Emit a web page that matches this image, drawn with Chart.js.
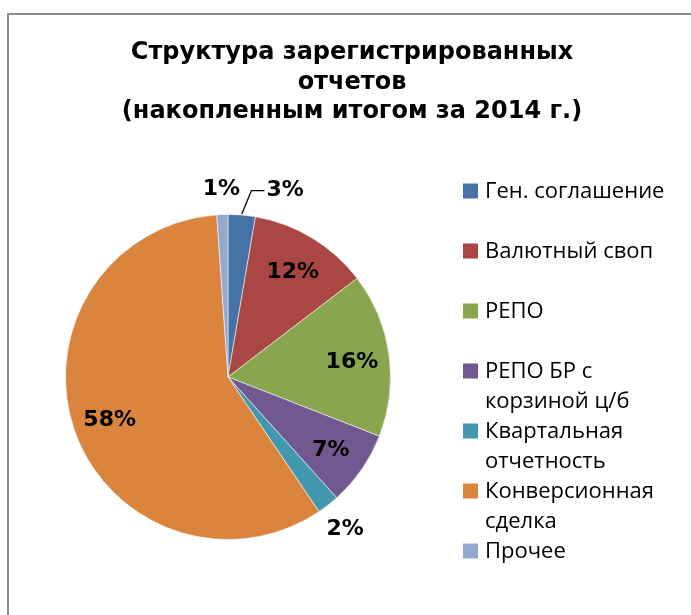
<!DOCTYPE html>
<html>
<head>
<meta charset="utf-8">
<script src="https://cdn.jsdelivr.net/npm/chart.js@4.4.0/dist/chart.umd.min.js"></script>
<style>
html, body { margin: 0; padding: 0; background: #ffffff; }
#wrap { width: 691px; height: 615px; position: relative; }
</style>
</head>
<body>
<div id="wrap"><canvas id="c" width="691" height="615"></canvas></div>
<script>
// ---- data ----
const TITLE_LINES = ['Структура зарегистрированных', 'отчетов', '(накопленным итогом за 2014 г.)'];
const CATEGORIES = ['Ген. соглашение', 'Валютный своп', 'РЕПО', 'РЕПО БР с корзиной ц/б', 'Квартальная отчетность', 'Конверсионная сделка', 'Прочее'];
const SHARES = [2.7, 11.9, 16.3, 7.4, 2.2, 58.3, 1.1];
const COLORS = ['#4572A7', '#AA4643', '#89A54E', '#71588F', '#4198AF', '#DB843D', '#93A9CF'];

// ---- styling / layout helpers (not data) ----
const TITLE_FONT = 'bold 24px "DejaVu Sans", sans-serif';
const LABEL_FONT = 'bold 22px "DejaVu Sans", sans-serif';
const LEGEND_FONT = '22px "Open Sans", "Noto Sans", sans-serif';
const OUTSIDE_NUDGE = { 0: { dx: 41, dy: 0, leader: true } };

function wrapText(ctx, text, maxW) {
  const words = text.split(' ');
  const lines = [];
  let cur = '';
  for (const w of words) {
    const t = cur ? cur + ' ' + w : w;
    if (cur && ctx.measureText(t).width > maxW) { lines.push(cur); cur = w; }
    else cur = t;
  }
  if (cur) lines.push(cur);
  return lines;
}

const decor = {
  id: 'decor',
  beforeDraw(chart) {
    const ctx = chart.ctx;
    ctx.save();
    ctx.fillStyle = '#ffffff';
    ctx.fillRect(0, 0, chart.width, chart.height);
    ctx.strokeStyle = '#8c8c8c';
    ctx.lineWidth = 2;
    ctx.beginPath();
    ctx.moveTo(8, chart.height + 2);
    ctx.lineTo(8, 14);
    ctx.lineTo(chart.width + 2, 14);
    ctx.stroke();
    ctx.restore();
  },
  afterDraw(chart) {
    const ctx = chart.ctx;
    ctx.save();
    // title
    ctx.fillStyle = '#000';
    ctx.font = TITLE_FONT;
    ctx.textAlign = 'center';
    ctx.textBaseline = 'alphabetic';
    const titleBase = [59, 89, 118];
    TITLE_LINES.forEach((t, i) => ctx.fillText(t, 352, titleBase[i]));

    // legend
    ctx.font = LEGEND_FONT;
    ctx.textAlign = 'left';
    ctx.textBaseline = 'middle';
    chart.data.labels.forEach((lab, i) => {
      const cy = 191 + i * 60;
      ctx.fillStyle = chart.data.datasets[0].backgroundColor[i];
      ctx.fillRect(463, cy - 7.5, 15, 15);
      ctx.fillStyle = '#000';
      const lines = wrapText(ctx, lab, 200);
      lines.forEach((ln, k) => ctx.fillText(ln, 485, cy + 1 + k * 30));
    });

    // data labels
    const meta = chart.getDatasetMeta(0);
    const data = chart.data.datasets[0].data;
    const total = data.reduce((a, b) => a + b, 0);
    ctx.font = LABEL_FONT;
    ctx.textAlign = 'center';
    ctx.textBaseline = 'alphabetic';
    meta.data.forEach((arc, i) => {
      const p = arc.getProps(['x', 'y', 'startAngle', 'endAngle', 'outerRadius'], true);
      const mid = (p.startAngle + p.endAngle) / 2;
      const pct = Math.round(data[i] / total * 100);
      const inside = pct >= 5;
      const r = p.outerRadius * (inside ? 0.77 : 1.17);
      let cx = p.x + Math.cos(mid) * r;
      let cy = p.y + Math.sin(mid) * r;
      const nudge = OUTSIDE_NUDGE[i];
      const txt = pct + '%';
      if (!inside && nudge) {
        cx += nudge.dx; cy += nudge.dy;
        const w = ctx.measureText(txt).width;
        const left = cx - w / 2;
        const ex = p.x + Math.cos(mid) * p.outerRadius;
        const ey = p.y + Math.sin(mid) * p.outerRadius;
        ctx.strokeStyle = '#000';
        ctx.lineWidth = 1.3;
        ctx.beginPath();
        ctx.moveTo(ex, ey - 1);
        ctx.lineTo(left - 15, cy + 3);
        ctx.lineTo(left - 2, cy + 3);
        ctx.stroke();
      }
      ctx.fillStyle = '#000';
      ctx.fillText(txt, cx, cy + 8);
    });
    ctx.restore();
  }
};

new Chart(document.getElementById('c'), {
  type: 'pie',
  data: {
    labels: CATEGORIES,
    datasets: [{
      data: SHARES,
      backgroundColor: COLORS,
      borderColor: 'rgba(255,255,255,0.55)',
      borderWidth: 1,
      hoverOffset: 0
    }]
  },
  options: {
    responsive: false,
    animation: false,
    devicePixelRatio: 1,
    layout: { padding: { left: 65, right: 300, top: 214, bottom: 75 } },
    plugins: {
      legend: { display: false },
      title: { display: false },
      tooltip: { enabled: false }
    }
  },
  plugins: [decor]
});
</script>
</body>
</html>
